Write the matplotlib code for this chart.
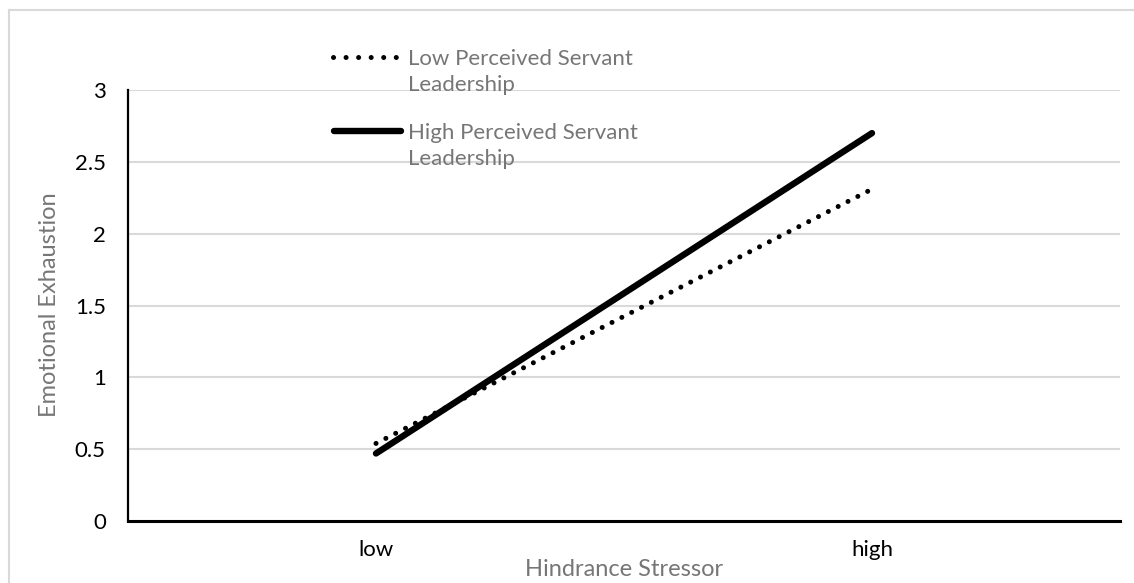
import matplotlib
matplotlib.use("Agg")
import matplotlib.pyplot as plt
from matplotlib.lines import Line2D

categories = ["low", "high"]
low_sl = [0.54, 2.31]
high_sl = [0.47, 2.70]
series_names = ["Low Perceived Servant\nLeadership", "High Perceived Servant\nLeadership"]
y_ticks = [0, 0.5, 1, 1.5, 2, 2.5, 3]
y_tick_labels = ["0", "0.5", "1", "1.5", "2", "2.5", "3"]

plt.rcParams['font.family'] = ['Lato', 'DejaVu Sans']

W, H = 1134, 583
fig = plt.figure(figsize=(W / 100, H / 100), dpi=100)
ax = fig.add_axes([128 / W, (H - 521) / H, (1120 - 128) / W, (521 - 90) / H])

x = [0, 1]
ax.plot(x, low_sl, color="black", linewidth=3.6, linestyle=(0, (0.01, 2.2)),
        dash_capstyle="round", zorder=3)
ax.plot(x, high_sl, color="black", linewidth=4.6, solid_capstyle="round", zorder=4)

ax.set_xlim(-0.5, 1.5)
ax.set_ylim(0, 3)
ax.set_yticks(y_ticks)
ax.set_yticklabels(y_tick_labels)
ax.set_xticks(x)
ax.set_xticklabels(categories)
ax.tick_params(axis="both", length=0, labelsize=16, colors="black")
ax.tick_params(axis="y", pad=16)
ax.tick_params(axis="x", pad=14)
ax.yaxis.grid(True, color="#d9d9d9", linewidth=1.5)
ax.set_axisbelow(True)
for s in ["top", "right"]:
    ax.spines[s].set_visible(False)
ax.spines["left"].set_linewidth(1.6)
ax.spines["bottom"].set_linewidth(2.2)

title_color = "#767676"
fig.text(50 / W, 1 - 305 / H, "Emotional Exhaustion", rotation=90, ha="center", va="center",
         fontsize=17, color=title_color)
fig.text(624 / W, 1 - 569 / H, "Hindrance Stressor", ha="center", va="center",
         fontsize=17, color=title_color)

# legend (drawn manually to mimic Excel layout)
fig.add_artist(Line2D([333 / W, 398.5 / W], [1 - 57 / H, 1 - 57 / H], color="black", linewidth=3.6,
                      linestyle=(0, (0.01, 2.5)), dash_capstyle="round"))
fig.add_artist(Line2D([334 / W, 401 / W], [1 - 131 / H, 1 - 131 / H], color="black", linewidth=4.6,
                      solid_capstyle="round"))
fig.text(408 / W, 1 - 72 / H, series_names[0], ha="left", va="center", fontsize=16,
         color=title_color, linespacing=1.4)
fig.text(408 / W, 1 - 146 / H, series_names[1], ha="left", va="center", fontsize=16,
         color=title_color, linespacing=1.4)

# outer chart border
fig.add_artist(Line2D([9 / W, 9 / W], [0, 1 - 10 / H], color="#d9d9d9", linewidth=1.5))
fig.add_artist(Line2D([9 / W, 1], [1 - 10 / H, 1 - 10 / H], color="#d9d9d9", linewidth=1.5))

fig.savefig("out.png", dpi=100)
